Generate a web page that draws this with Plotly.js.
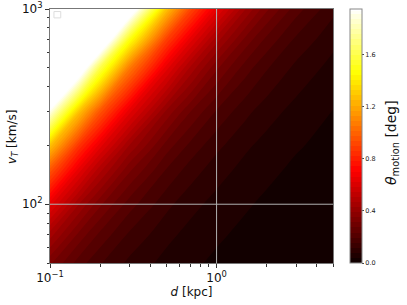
<!DOCTYPE html>
<html><head><meta charset="utf-8">
<script src="https://cdn.plot.ly/plotly-3.0.1.min.js"></script>
<style>html,body{margin:0;padding:0;background:#fff}</style>
</head><body><div id="chart" style="width:407px;height:305px"></div>
<script>
// distance d [kpc]
const dKpc = [0.1, 0.15, 0.2, 0.3, 0.5, 0.7, 1, 1.5, 2, 3, 5];
// transverse velocity v_T [km/s]
const vT = [50, 70, 100, 150, 200, 300, 500, 700, 1000];
// theta_motion [deg], rows follow vT, columns follow dKpc
const thetaRows = [
  [0.32, 0.213, 0.16, 0.107, 0.064, 0.046, 0.032, 0.021, 0.016, 0.011, 0.0064],
  [0.448, 0.299, 0.224, 0.149, 0.090, 0.064, 0.045, 0.030, 0.022, 0.015, 0.009],
  [0.64, 0.427, 0.32, 0.213, 0.128, 0.091, 0.064, 0.043, 0.032, 0.021, 0.013],
  [0.96, 0.64, 0.48, 0.32, 0.192, 0.137, 0.096, 0.064, 0.048, 0.032, 0.019],
  [1.28, 0.853, 0.64, 0.427, 0.256, 0.183, 0.128, 0.085, 0.064, 0.043, 0.026],
  [1.92, 1.28, 0.96, 0.64, 0.384, 0.274, 0.192, 0.128, 0.096, 0.064, 0.038],
  [3.2, 2.133, 1.6, 1.067, 0.64, 0.457, 0.32, 0.213, 0.16, 0.107, 0.064],
  [4.48, 2.987, 2.24, 1.493, 0.896, 0.64, 0.448, 0.299, 0.224, 0.149, 0.090],
  [6.4, 4.267, 3.2, 2.133, 1.28, 0.914, 0.64, 0.427, 0.32, 0.213, 0.128]
];
const xMajor = [0.1, 1];
const xMajorText = ['10<sup>\u22121</sup>', '10<sup>0</sup>'];
const xMinor = [0.2, 0.3, 0.4, 0.5, 0.6, 0.7, 0.8, 0.9, 2, 3, 4, 5];
const yMajor = [100, 1000];
const yMajorText = ['10<sup>2</sup>', '10<sup>3</sup>'];
const yMinor = [50, 60, 70, 80, 90, 200, 300, 400, 500, 600, 700, 800, 900];
const cbTicks = [0, 0.4, 0.8, 1.2, 1.6];
const cbText = ['0.0', '0.4', '0.8', '1.2', '1.6'];

const hot = [[0, 'rgb(11,0,0)'], [0.365, 'rgb(255,0,0)'], [0.746, 'rgb(255,255,0)'], [1, 'rgb(255,255,255)']];

const trace = {
  type: 'contour', x: dKpc, y: vT, z: thetaRows,
  colorscale: hot, zmin: 0, zmax: 1.95, zauto: false,
  autocontour: false,
  contours: {start: 0, end: 1.95, size: 0.039, coloring: 'fill', showlines: false},
  line: {width: 0},
  colorbar: {
    x: 1.06, xanchor: 'left', xref: 'paper', y: 0, yanchor: 'bottom', len: 1, lenmode: 'fraction',
    thickness: 12, thicknessmode: 'pixels', outlinecolor: '#888', outlinewidth: 1,
    tickmode: 'array', tickvals: cbTicks, ticktext: cbText, ticks: 'outside', ticklen: 2,
    tickcolor: '#444', tickfont: {size: 6.5, family: 'DejaVu Sans', color: '#222'}, ypad: 0, xpad: 0
  },
  hoverinfo: 'skip'
};

const gridShapes = [];
xMajor.slice(1).forEach(v => gridShapes.push({type: 'line', xref: 'x', yref: 'paper', x0: v, x1: v, y0: 0, y1: 1, line: {color: '#b0b0b0', width: 1}, layer: 'above'}));
yMajor.slice(0, 1).forEach(v => gridShapes.push({type: 'line', xref: 'paper', yref: 'y', x0: 0, x1: 1, y0: v, y1: v, line: {color: '#b0b0b0', width: 1}, layer: 'above'}));
// empty legend box
gridShapes.push({type: 'rect', xref: 'paper', yref: 'paper', x0: 0.014, x1: 0.038, y0: 0.965, y1: 0.99, line: {color: '#ddd', width: 1}, fillcolor: 'rgba(255,255,255,0.8)', layer: 'above'});

const axFont = {family: 'DejaVu Sans', size: 12, color: '#111'};
const layout = {
  width: 407, height: 305,
  margin: {l: 50, r: 74, t: 9, b: 42},
  paper_bgcolor: '#fff', plot_bgcolor: '#fff',
  font: {family: 'DejaVu Sans'},
  xaxis: {
    type: 'log', range: [Math.log10(0.1), Math.log10(5)],
    tickmode: 'array', tickvals: xMajor, ticktext: xMajorText, tickfont: axFont,
    ticks: 'outside', ticklen: 4, tickcolor: '#333', showgrid: false, zeroline: false,
    showline: true, linecolor: '#777', linewidth: 1, mirror: true,
    minor: {tickmode: 'array', tickvals: xMinor, ticks: 'outside', ticklen: 2.5, tickcolor: '#333', showgrid: false},
    title: {text: '<i>d</i> [kpc]', font: {family: 'DejaVu Sans', size: 12, color: '#111'}, standoff: 2}
  },
  yaxis: {
    type: 'log', range: [Math.log10(50), Math.log10(1000)],
    tickmode: 'array', tickvals: yMajor, ticktext: yMajorText, tickfont: axFont,
    ticks: 'outside', ticklen: 4, tickcolor: '#333', showgrid: false, zeroline: false,
    showline: true, linecolor: '#777', linewidth: 1, mirror: true,
    minor: {tickmode: 'array', tickvals: yMinor, ticks: 'outside', ticklen: 2.5, tickcolor: '#333', showgrid: false}
  },
  shapes: gridShapes,
  annotations: [{
    text: '<i>v<sub>T</sub></i> [km/s]', xref: 'paper', yref: 'paper', x: -0.131, y: 0.496,
    xanchor: 'center', yanchor: 'middle', textangle: -90, showarrow: false,
    font: {family: 'DejaVu Sans', size: 12, color: '#111'}
  }, {
    text: '<i>\u03b8</i><sub>motion</sub> [deg]', xref: 'paper', yref: 'paper', x: 1.208, y: 0.476,
    xanchor: 'center', yanchor: 'middle', textangle: -90, showarrow: false,
    font: {family: 'DejaVu Sans', size: 14, color: '#111'}
  }],
  showlegend: false
};
Plotly.newPlot('chart', [trace], layout, {displayModeBar: false, staticPlot: true});
</script></body></html>
